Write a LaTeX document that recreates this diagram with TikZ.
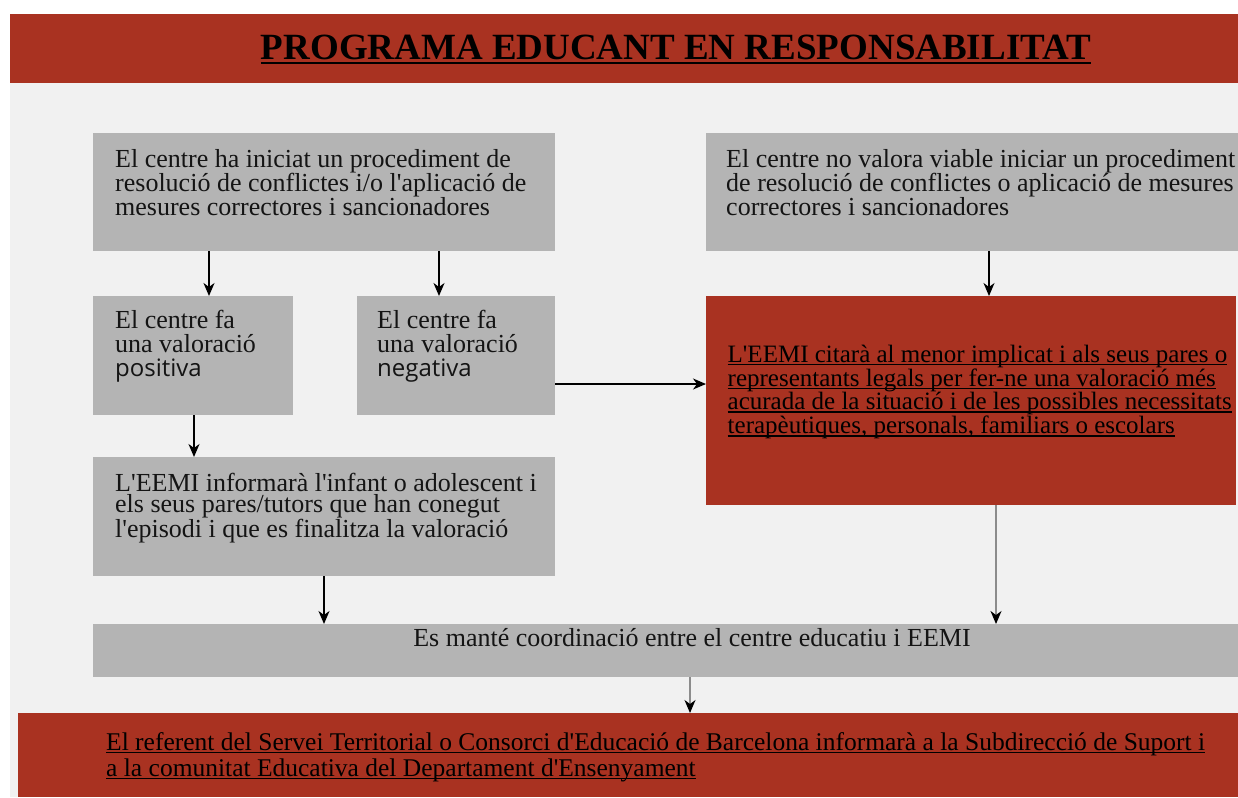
\documentclass[tikz,border=0pt]{standalone}
\usepackage{fontspec}
\setmainfont{Liberation Serif}[Ligatures=TeXOff]
\newfontfamily\sansf{Open Sans}
\usetikzlibrary{arrows.meta}
\definecolor{redbg}{HTML}{A93221}
\definecolor{boxg}{HTML}{B4B4B4}
\definecolor{lightbg}{HTML}{F1F1F1}
\definecolor{txtc}{HTML}{141414}
\definecolor{lineg}{HTML}{8C8C8C}
\newcommand{\ulin}[3][1.4pt]{\setbox0\hbox{#3}\leavevmode\rlap{\rule[#2]{\wd0}{#1}}\box0}
\begin{document}
\begin{tikzpicture}[x=1pt,y=-1pt,
  box/.style={fill=boxg,inner sep=0pt,anchor=north west},
  redbox/.style={fill=redbg,inner sep=0pt,anchor=north west},
  tx/.style={inner sep=0pt,anchor=north west,align=left,text=txtc,font=\fontsize{26}{24}\selectfont},
  arr/.style={line width=1.5pt,-{Stealth[length=13pt,width=11pt,inset=4pt]}},
  garr/.style={line width=1.5pt,draw=lineg,-{Stealth[length=13pt,width=11pt,inset=4pt,black]}}]
\useasboundingbox (0,0) rectangle (1238,797);
\clip (0,0) rectangle (1238,797);
\fill[white] (0,0) rectangle (1238,797);
\fill[lightbg] (10,83) rectangle (1238,797);
% title band
\node[redbox,minimum width=1228pt,minimum height=69pt] (band) at (10,14) {};
\node[inner sep=0pt,anchor=base,text=black,font=\bfseries\fontsize{37}{40}\selectfont] (title) at (676,60)
  {\ulin[2.6pt]{-4.5pt}{PROGRAMA EDUCANT EN RESPONSABILITAT}};
% boxes
\node[box,minimum width=462pt,minimum height=118pt] (b1) at (93,133) {};
\node[box,minimum width=532pt,minimum height=118pt] (b2) at (706,133) {};
\node[box,minimum width=200pt,minimum height=119pt] (p) at (93,296) {};
\node[box,minimum width=198pt,minimum height=119pt] (n) at (357,296) {};
\node[redbox,minimum width=530pt,minimum height=209pt] (r) at (706,296) {};
\node[box,minimum width=462pt,minimum height=119pt] (l) at (93,457) {};
\node[box,minimum width=1145pt,minimum height=53pt] (c) at (93,624) {};
\node[redbox,minimum width=1220pt,minimum height=84pt] (bot) at (18,713) {};
% texts
\node[tx] (b1t) at (115,149) {El centre ha iniciat un procediment de\\resolució de conflictes i/o l'aplicació de\\mesures correctores i sancionadores};
\node[tx] (b2t) at (726,149) {El centre no valora viable iniciar un procediment\\de resolució de conflictes o aplicació de mesures\\correctores i sancionadores};
\node[tx] (pt) at (115,310) {El centre fa\\una valoració\\{\sansf\fontsize{24}{24}\selectfont positiva}};
\node[tx] (nt) at (377,310) {El centre fa\\una valoració\\{\sansf\fontsize{24}{24}\selectfont negativa}};
\node[tx,font=\fontsize{26}{21}\selectfont] (lt) at (115,473) {L'EEMI informarà l'infant o adolescent i\\els seus pares/tutors que han conegut\\l'episodi i que es finalitza la valoració};
\node[tx,text=black,font=\fontsize{25}{22.5}\selectfont] (rt) at (727.5,344.6)
  {\ulin{-3pt}{L'EEMI citarà al menor implicat i als seus pares o}\\\ulin{-3pt}{representants legals per fer-ne una valoració més}\\\ulin{-3pt}{acurada de la situació i de les possibles necessitats}\\\ulin{-3pt}{terapèutiques, personals, familiars o escolars}};
\node[inner sep=0pt,anchor=base,text=txtc,font=\fontsize{26}{24}\selectfont] (ct) at (692,646) {Es manté coordinació entre el centre educatiu i EEMI};
\node[tx,text=black,font=\fontsize{25.5}{26}\selectfont] (bt) at (106,732)
  {\ulin{-3pt}{El referent del Servei Territorial o Consorci d'Educació de Barcelona informarà a la Subdirecció de Suport i}\\\ulin{-3pt}{a la comunitat Educativa del Departament d'Ensenyament}};
% connectors
\draw[arr] ([xshift=116pt]b1.south west) -- ([xshift=116pt]p.north west);
\draw[arr] ([xshift=346pt]b1.south west) -- ([xshift=82pt]n.north west);
\draw[arr] ([xshift=283pt]b2.south west) -- ([xshift=283pt]r.north west);
\draw[arr] ([xshift=101pt]p.south west) -- ([xshift=101pt]l.north west);
\draw[arr] ([yshift=-88pt]n.north east) -- ([yshift=-88pt]r.north west);
\draw[arr] ([xshift=231pt]l.south west) -- ([xshift=231pt]c.north west);
\draw[garr] ([xshift=290pt]r.south west) -- ([xshift=903pt]c.north west);
\draw[garr] ([xshift=597pt]c.south west) -- ([xshift=672pt]bot.north west);
\end{tikzpicture}
\end{document}
